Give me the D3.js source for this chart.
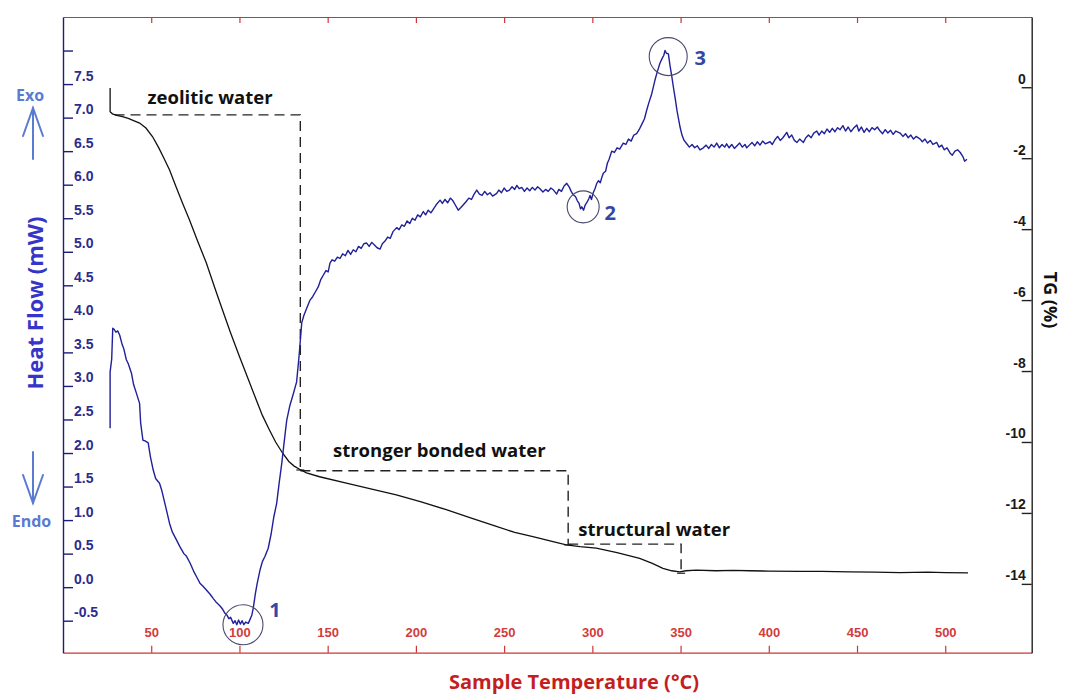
<!DOCTYPE html>
<html>
<head>
<meta charset="utf-8">
<script src="https://cdn.jsdelivr.net/npm/d3@7"></script>
<style>
  html, body { margin: 0; padding: 0; background: #fff; }
  svg { display: block; }
</style>
</head>
<body>
<svg id="chart"></svg>
<script>
// --- DATA ---
// DSC heat flow, [temperature °C, heat flow mW]
const dscPoints = [
  [26.7, 2.37], [26.7, 3.21], [27.6, 3.40], [28.2, 3.86], [29.1, 3.84], [30.0, 3.80], [31.0, 3.82], [32.1, 3.76],
  [33.5, 3.62], [34.5, 3.55], [35.9, 3.39], [37.0, 3.33], [38.8, 3.19], [40.0, 3.02], [41.5, 2.90], [43.4, 2.74],
  [44.0, 2.45], [45.3, 2.19], [46.5, 2.18], [48.3, 2.15], [49.5, 1.95], [51.1, 1.75], [52.5, 1.62], [54.7, 1.55],
  [56.0, 1.44], [58.0, 1.22], [60.4, 0.95], [62.0, 0.82], [64.0, 0.72], [66.3, 0.60], [68.5, 0.50], [70.0, 0.46],
  [72.0, 0.36], [74.0, 0.24], [76.0, 0.14], [77.6, 0.06], [79.5, 0.01], [81.5, -0.05], [83.5, -0.11], [85.2, -0.17],
  [87.0, -0.23], [89.0, -0.28], [90.5, -0.33], [91.8, -0.39], [93.0, -0.42], [94.0, -0.47], [95.0, -0.45], [96.5, -0.54],
  [97.5, -0.50], [98.5, -0.56], [99.5, -0.49], [100.5, -0.55], [101.5, -0.50], [102.5, -0.56], [103.5, -0.52], [105.0, -0.54],
  [106.0, -0.48], [107.0, -0.42], [107.9, -0.30], [109.0, -0.10], [110.0, 0.05], [111.7, 0.26], [113.0, 0.38], [114.5, 0.46],
  [116.3, 0.58], [118.0, 0.80], [119.5, 1.05], [121.1, 1.25], [122.5, 1.55], [124.0, 1.85], [125.5, 2.20], [126.8, 2.49],
  [128.5, 2.70], [130.5, 2.88], [132.4, 3.06], [133.8, 3.45], [135.3, 3.94], [136.5, 4.05], [138.0, 4.15], [140.0, 4.28],
  [141.5, 4.33], [143.0, 4.40], [144.7, 4.48], [146.0, 4.58], [147.5, 4.65], [149.0, 4.72], [150.3, 4.70], [151.3, 4.83],
  [152.5, 4.88], [154.0, 4.86], [155.5, 4.92], [157.0, 4.90], [158.5, 4.97], [160.0, 4.94], [161.5, 5.02], [163.0, 4.96],
  [164.5, 5.03], [166.0, 5.00], [167.5, 5.08], [169.0, 5.05], [170.5, 5.12], [172.1, 5.13], [173.5, 5.08], [175.0, 5.14],
  [176.5, 5.10], [178.0, 5.06], [179.7, 5.04], [181.0, 5.12], [182.5, 5.16], [184.0, 5.22], [185.5, 5.20], [187.0, 5.30],
  [189.1, 5.36], [190.5, 5.33], [192.0, 5.40], [193.5, 5.38], [195.0, 5.46], [196.5, 5.42], [198.0, 5.50], [199.5, 5.47],
  [201.0, 5.55], [202.5, 5.52], [204.2, 5.60], [205.5, 5.55], [207.0, 5.62], [208.5, 5.58], [210.0, 5.64], [211.5, 5.70],
  [213.7, 5.77], [215.0, 5.72], [216.5, 5.78], [218.0, 5.73], [219.5, 5.80], [221.0, 5.76], [222.5, 5.69], [224.0, 5.62],
  [225.5, 5.66], [226.9, 5.70], [228.5, 5.75], [230.0, 5.80], [231.5, 5.78], [233.0, 5.86], [234.5, 5.92], [236.0, 5.86],
  [237.5, 5.84], [239.0, 5.90], [240.5, 5.85], [242.0, 5.88], [243.5, 5.83], [245.8, 5.87], [247.0, 5.92], [248.5, 5.88],
  [250.0, 5.95], [251.5, 5.90], [253.0, 5.92], [254.5, 5.97], [256.0, 5.93], [257.2, 5.99], [258.5, 5.94], [260.0, 5.96],
  [261.5, 5.90], [263.0, 5.95], [264.5, 5.91], [266.0, 5.96], [267.5, 5.92], [269.0, 5.97], [270.3, 5.94], [272.0, 5.89],
  [273.5, 5.93], [275.0, 5.90], [276.5, 5.95], [278.0, 5.92], [279.8, 5.86], [281.0, 5.93], [282.5, 5.90], [284.0, 5.98],
  [285.5, 6.02], [287.0, 5.96], [288.0, 5.90], [289.2, 5.85], [290.5, 5.82], [291.5, 5.76], [292.5, 5.72], [293.3, 5.64],
  [294.0, 5.67], [295.0, 5.62], [296.0, 5.70], [297.0, 5.74], [298.0, 5.79], [298.7, 5.84], [299.5, 5.78], [300.5, 5.88],
  [301.5, 5.94], [302.5, 6.02], [303.5, 6.06], [304.5, 6.03], [305.5, 6.12], [306.2, 6.17], [307.5, 6.20], [308.5, 6.32],
  [309.5, 6.38], [311.0, 6.50], [312.5, 6.48], [314.0, 6.55], [315.5, 6.53], [317.5, 6.62], [319.0, 6.60], [320.5, 6.68],
  [322.0, 6.65], [323.5, 6.74], [325.1, 6.76], [326.5, 6.82], [328.0, 6.90], [329.5, 6.98], [330.8, 7.11], [332.0, 7.22],
  [333.5, 7.34], [335.5, 7.56], [337.0, 7.70], [338.3, 7.81], [339.5, 7.88], [340.5, 7.93], [341.2, 8.00], [342.0, 7.96],
  [343.1, 7.95], [344.0, 7.78], [345.0, 7.62], [345.9, 7.46], [347.0, 7.28], [348.0, 7.10], [349.0, 6.96], [349.7, 6.86],
  [350.8, 6.74], [352.0, 6.66], [353.5, 6.61], [355.0, 6.56], [356.5, 6.60], [358.0, 6.55], [359.5, 6.58], [361.0, 6.52],
  [362.9, 6.55], [364.5, 6.59], [366.0, 6.54], [367.5, 6.60], [369.0, 6.56], [370.5, 6.62], [372.0, 6.55], [373.5, 6.60],
  [375.0, 6.56], [376.1, 6.61], [377.5, 6.55], [379.0, 6.60], [380.5, 6.54], [382.0, 6.58], [383.5, 6.62], [385.0, 6.56],
  [386.5, 6.60], [387.5, 6.55], [389.0, 6.59], [390.5, 6.63], [392.0, 6.58], [393.5, 6.64], [395.0, 6.59], [396.5, 6.65],
  [398.0, 6.61], [400.7, 6.64], [402.0, 6.60], [403.5, 6.67], [405.0, 6.72], [406.5, 6.66], [408.0, 6.70], [410.2, 6.78],
  [411.5, 6.70], [413.0, 6.74], [414.5, 6.66], [416.0, 6.63], [417.5, 6.68], [419.6, 6.63], [421.0, 6.70], [422.5, 6.74],
  [424.0, 6.70], [425.5, 6.77], [427.2, 6.80], [428.5, 6.74], [430.0, 6.80], [431.5, 6.76], [433.0, 6.83], [434.5, 6.78],
  [436.0, 6.84], [437.5, 6.79], [439.0, 6.85], [440.4, 6.82], [442.0, 6.88], [443.5, 6.80], [445.0, 6.86], [446.5, 6.79],
  [448.0, 6.84], [449.9, 6.89], [451.0, 6.80], [452.5, 6.86], [454.0, 6.78], [455.5, 6.84], [457.0, 6.79], [458.5, 6.85],
  [460.0, 6.82], [461.5, 6.86], [463.1, 6.80], [464.5, 6.76], [466.0, 6.82], [467.5, 6.77], [469.0, 6.81], [470.5, 6.75],
  [472.0, 6.80], [474.4, 6.77], [476.0, 6.72], [477.5, 6.76], [479.0, 6.70], [480.5, 6.74], [482.0, 6.68], [483.5, 6.72],
  [485.8, 6.68], [487.0, 6.64], [488.5, 6.68], [490.0, 6.62], [491.5, 6.66], [493.0, 6.60], [495.2, 6.63], [496.5, 6.56],
  [498.0, 6.59], [499.5, 6.52], [501.0, 6.55], [502.8, 6.47], [504.0, 6.44], [505.5, 6.50], [507.0, 6.52], [508.5, 6.48],
  [510.0, 6.42], [511.0, 6.35], [512.3, 6.38]
];

// TG mass change, [temperature °C, TG %]
const tgPoints = [
  [26.7, -0.02], [26.7, -0.69], [28.0, -0.75], [30.5, -0.79], [33.7, -0.83], [37.0, -0.88], [40.0, -0.94], [43.4, -1.01],
  [47.0, -1.15], [50.7, -1.39], [54.0, -1.68], [57.0, -1.98], [60.4, -2.33], [64.0, -2.80], [68.0, -3.30], [71.7, -3.74],
  [76.0, -4.30], [81.2, -4.95], [86.0, -5.65], [90.4, -6.28], [95.0, -6.93], [100.0, -7.59], [105.0, -8.23], [109.5, -8.81],
  [113.0, -9.25], [117.0, -9.66], [120.5, -10.00], [124.4, -10.31], [128.0, -10.55], [131.0, -10.68], [134.1, -10.77],
  [138.0, -10.87], [145.4, -10.98], [160.6, -11.16], [175.0, -11.33], [188.9, -11.49], [203.0, -11.69], [217.2, -11.91],
  [231.0, -12.14], [245.6, -12.38], [256.0, -12.55], [266.3, -12.67], [276.0, -12.79], [285.2, -12.90], [293.0, -12.95],
  [302.2, -12.99], [314.0, -13.12], [326.8, -13.28], [334.0, -13.42], [340.0, -13.56], [345.0, -13.63], [349.5, -13.66],
  [353.0, -13.63], [359.0, -13.61], [370.0, -13.63], [380.0, -13.62], [389.0, -13.63], [400.0, -13.64], [417.6, -13.65],
  [430.0, -13.65], [446.0, -13.66], [460.0, -13.67], [474.3, -13.68], [490.0, -13.67], [500.0, -13.68], [512.9, -13.69]
];

// water loss stages: temperature span and TG levels of each bracket
const stageNames = ["zeolitic water", "stronger bonded water", "structural water"];
const stageSpans = [[29.2, 134.5], [134.5, 286.3], [286.3, 350.3]];
const stageLevels = [[-0.78, -10.79], [-10.81, -12.90], [-12.88, -13.70]];
const stageLabelAt = [[47.9, -0.26], [153.0, -10.22], [292.0, -12.43]];

// numbered DSC events
const peakIds = ["1", "2", "3"];
const peakAt = [[102.0, -0.56], [294.8, 5.67], [343.0, 7.91]];

// tick labels
const tempTicks = [50, 100, 150, 200, 250, 300, 350, 400, 450, 500];
const heatTicks = [-0.5, 0, 0.5, 1, 1.5, 2, 2.5, 3, 3.5, 4, 4.5, 5, 5.5, 6, 6.5, 7, 7.5, 8];
const tgTicks = [0, -2, -4, -6, -8, -10, -12, -14];

// --- SETUP ---
const W = 1065, H = 695;
const plot = { left: 63, right: 1031.7, top: 17, bottom: 652.7 };

const red = "#cc3535";
const navy = "#20209a";
const tickBlue = "#2c2c8c";
const softBlue = "#5b7bd2";

const svg = d3.select("#chart").attr("width", W).attr("height", H)
  .style("font-family", "'Liberation Sans', Arial, sans-serif");

const xScale = d3.scaleLinear().domain([0, 549]).range([plot.left, plot.right]);
const yHeat = d3.scaleLinear().domain([-0.977, 8.5]).range([plot.bottom, plot.top]);
const yTG = d3.scaleLinear().domain([-15.94, 1.98]).range([plot.bottom, plot.top]);

// --- AXES ---
const topAxis = svg.append("g")
  .attr("transform", `translate(0,${plot.top})`)
  .call(d3.axisBottom(xScale).tickValues(tempTicks).tickSize(6).tickSizeOuter(0).tickFormat(""));
topAxis.selectAll("path, line").attr("stroke", red).attr("stroke-width", 1.2);

const bottomAxis = svg.append("g")
  .attr("transform", `translate(0,${plot.bottom})`)
  .call(d3.axisTop(xScale).tickValues(tempTicks).tickSize(7).tickSizeOuter(0).tickPadding(9).tickFormat(d => d));
bottomAxis.selectAll("path, line").attr("stroke", red).attr("stroke-width", 1.2);
bottomAxis.selectAll("text")
  .attr("fill", "#d23c3c")
  .style("font-size", "13px")
  .style("font-weight", "bold");

const leftAxis = svg.append("g")
  .attr("transform", `translate(${plot.left},0)`)
  .call(d3.axisRight(yHeat).tickValues(heatTicks).tickSize(10).tickSizeOuter(0)
    .tickFormat(d => d === 8 ? "" : d.toFixed(1)));
leftAxis.selectAll("path, line").attr("stroke", "#1c1c7a").attr("stroke-width", 1.4);
leftAxis.selectAll("text")
  .attr("x", 11).attr("y", -4).attr("dy", 0)
  .attr("fill", tickBlue)
  .style("font-size", "14px")
  .style("font-weight", "bold");

const rightAxis = svg.append("g")
  .attr("transform", `translate(${plot.right},0)`)
  .call(d3.axisLeft(yTG).tickValues(tgTicks).tickSize(10).tickSizeOuter(0).tickFormat(d => String(d)));
rightAxis.selectAll("path, line").attr("stroke", "#222").attr("stroke-width", 1.4);
rightAxis.selectAll("text")
  .attr("x", -6).attr("y", -4).attr("dy", 0)
  .attr("fill", "#1a1a1a")
  .style("font-size", "14px")
  .style("font-weight", "bold");

// axis titles
svg.append("text")
  .attr("transform", "translate(33.5,303) rotate(-90)")
  .attr("text-anchor", "middle")
  .attr("dominant-baseline", "central")
  .attr("fill", "#3535c8")
  .style("font-family", "'Open Sans', sans-serif")
  .style("font-size", "22px")
  .style("font-weight", "bold")
  .text("Heat Flow (mW)");

svg.append("text")
  .attr("transform", "translate(1051,300) rotate(90)")
  .attr("text-anchor", "middle")
  .attr("dominant-baseline", "central")
  .attr("fill", "#111")
  .style("font-family", "'Open Sans', sans-serif")
  .style("font-size", "18px")
  .style("font-weight", "bold")
  .text("TG (%)");

svg.append("text")
  .attr("x", 574).attr("y", 681)
  .attr("text-anchor", "middle")
  .attr("dominant-baseline", "central")
  .attr("fill", "#c41e1e")
  .style("font-family", "'Open Sans', sans-serif")
  .style("font-size", "20px")
  .style("font-weight", "bold")
  .text("Sample Temperature (°C)");

// Exo / Endo markers
const marker = svg.append("g")
  .attr("stroke", softBlue).attr("stroke-width", 2).attr("fill", "none").attr("stroke-linecap", "round");
marker.append("line").attr("x1", 33).attr("y1", 159).attr("x2", 33).attr("y2", 108);
marker.append("polyline").attr("points", "23,136 33,108 43,136");
marker.append("line").attr("x1", 33).attr("y1", 452).attr("x2", 33).attr("y2", 503);
marker.append("polyline").attr("points", "23,475 33,503 43,475");

svg.append("text")
  .attr("x", 30).attr("y", 95)
  .attr("text-anchor", "middle").attr("dominant-baseline", "central")
  .attr("fill", softBlue)
  .style("font-family", "'Open Sans', sans-serif")
  .style("font-size", "16px").style("font-weight", "bold")
  .text("Exo");
svg.append("text")
  .attr("x", 31.5).attr("y", 521)
  .attr("text-anchor", "middle").attr("dominant-baseline", "central")
  .attr("fill", softBlue)
  .style("font-family", "'Open Sans', sans-serif")
  .style("font-size", "16px").style("font-weight", "bold")
  .text("Endo");

// --- STAGE BRACKETS ---
const stageGroup = svg.append("g");
stageNames.forEach((name, i) => {
  const [t0, t1] = stageSpans[i];
  const [lvTop, lvBottom] = stageLevels[i];
  stageGroup.append("path")
    .attr("d", d3.line()([
      [xScale(t0), yTG(lvTop)],
      [xScale(t1), yTG(lvTop)],
      [xScale(t1), yTG(lvBottom)]
    ]))
    .attr("fill", "none")
    .attr("stroke", "#222")
    .attr("stroke-width", 1.4)
    .attr("stroke-dasharray", "10,6");
  stageGroup.append("line")
    .attr("x1", xScale(t1) - 4).attr("x2", xScale(t1) + 4)
    .attr("y1", yTG(lvBottom)).attr("y2", yTG(lvBottom))
    .attr("stroke", "#222").attr("stroke-width", 1.2);
  stageGroup.append("text")
    .attr("x", xScale(stageLabelAt[i][0]))
    .attr("y", yTG(stageLabelAt[i][1]))
    .attr("dominant-baseline", "central")
    .attr("fill", "#111")
    .style("font-family", "'Open Sans', sans-serif")
    .style("font-size", "18.5px")
    .style("font-weight", "bold")
    .text(name);
});

// --- CURVES ---
svg.append("path")
  .datum(tgPoints)
  .attr("fill", "none")
  .attr("stroke", "#111")
  .attr("stroke-width", 1.3)
  .attr("d", d3.line().x(d => xScale(d[0])).y(d => yTG(d[1])));

svg.append("path")
  .datum(dscPoints)
  .attr("fill", "none")
  .attr("stroke", navy)
  .attr("stroke-width", 1.4)
  .attr("stroke-linejoin", "round")
  .attr("d", d3.line().x(d => xScale(d[0])).y(d => yHeat(d[1])));

// --- PEAK MARKERS ---
const peakRadius = [20, 16, 19];
const peakLabelOffset = [[32, -15], [27, 6], [32, 1]];
peakIds.forEach((id, i) => {
  const cx = xScale(peakAt[i][0]), cy = yHeat(peakAt[i][1]);
  svg.append("circle")
    .attr("cx", cx).attr("cy", cy).attr("r", peakRadius[i])
    .attr("fill", "none").attr("stroke", "#4a4a6e").attr("stroke-width", 1.1);
  svg.append("text")
    .attr("x", cx + peakLabelOffset[i][0]).attr("y", cy + peakLabelOffset[i][1])
    .attr("text-anchor", "middle").attr("dominant-baseline", "central")
    .attr("fill", "#3447a8")
    .style("font-family", "'Open Sans', sans-serif")
    .style("font-size", "20px").style("font-weight", "bold")
    .text(id);
});
</script>
</body>
</html>
